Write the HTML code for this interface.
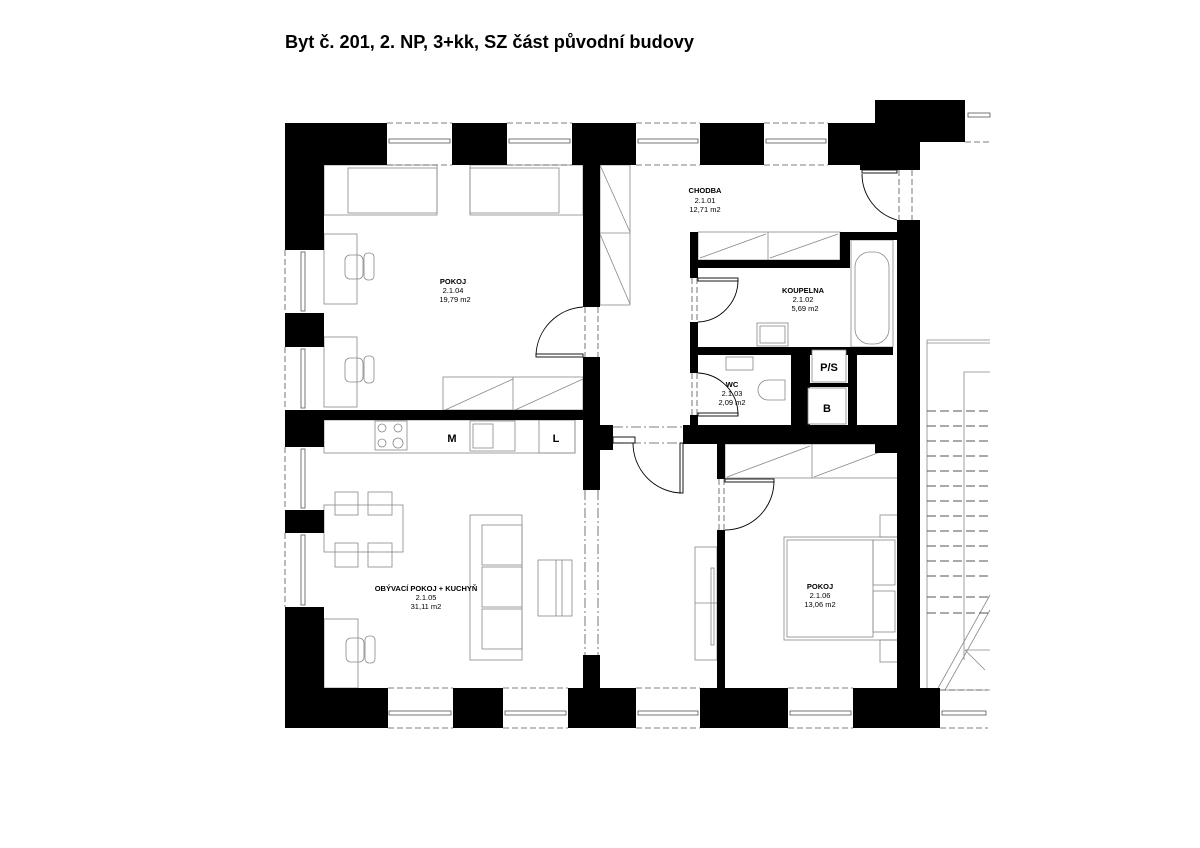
<!DOCTYPE html>
<html><head><meta charset="utf-8"><style>
html,body{margin:0;padding:0;background:#fff;}
svg{display:block;}
text{font-family:"Liberation Sans",Arial,sans-serif;fill:#000;}
.lbl{font-size:7.5px;text-anchor:middle;}
.b{font-weight:bold;}
</style></head><body>
<svg width="1200" height="848" viewBox="0 0 1200 848" xmlns="http://www.w3.org/2000/svg">
<rect width="1200" height="848" fill="#fff"/>
<text x="285" y="48" font-size="18" font-weight="bold" textLength="409" lengthAdjust="spacingAndGlyphs">Byt č. 201, 2. NP, 3+kk, SZ část původní budovy</text>

<g fill="none" stroke="#888" stroke-width="0.8">
<!-- furniture pokoj 2.1.04 -->
<rect x="324" y="165" width="113" height="50"/><rect x="348" y="168" width="89" height="45"/>
<rect x="470" y="165" width="113" height="50"/><rect x="470" y="168" width="89" height="45"/>
<rect x="324" y="234" width="33" height="70"/><rect x="324" y="337" width="33" height="70"/>
<rect x="345" y="255" width="18" height="24" rx="5"/><rect x="364" y="253" width="10" height="27" rx="4"/>
<rect x="345" y="358" width="18" height="24" rx="5"/><rect x="364" y="356" width="10" height="27" rx="4"/>
<rect x="443" y="377" width="140" height="33"/><line x1="513" y1="377" x2="513" y2="410"/>
<line x1="445" y1="410" x2="513" y2="379"/><line x1="515" y1="410" x2="583" y2="379"/>
<!-- chodba wardrobe -->
<rect x="600" y="165" width="30" height="140"/><line x1="600" y1="233" x2="630" y2="233"/>
<line x1="600" y1="165" x2="630" y2="232"/><line x1="600" y1="234" x2="630" y2="304"/>
<rect x="698" y="232" width="142" height="28"/><line x1="768" y1="232" x2="768" y2="260"/>
<line x1="700" y1="258" x2="766" y2="234"/><line x1="770" y1="258" x2="838" y2="234"/>
<!-- bath -->
<rect x="851" y="240" width="42" height="107"/><rect x="855" y="252" width="34" height="92" rx="15"/>
<rect x="757" y="323" width="31" height="23"/><rect x="760" y="326" width="25" height="17"/>
<rect x="726" y="357" width="27" height="13"/>
<path d="M785 380 H768 a10 10 0 0 0 0 20 H785 Z"/>
<!-- kitchen -->
<rect x="324" y="420" width="251" height="33"/>
<rect x="375" y="421" width="32" height="29"/>
<circle cx="382" cy="428" r="4"/><circle cx="398" cy="428" r="4"/><circle cx="382" cy="443" r="4"/><circle cx="398" cy="443" r="5"/>
<rect x="470" y="421" width="45" height="30"/><rect x="473" y="424" width="20" height="24"/>
<rect x="539" y="420" width="36" height="33"/>
<!-- living -->
<rect x="324" y="505" width="79" height="47"/>
<rect x="335" y="492" width="23" height="23"/><rect x="368" y="492" width="24" height="23"/>
<rect x="335" y="543" width="23" height="24"/><rect x="368" y="543" width="24" height="24"/>
<rect x="470" y="515" width="52" height="145"/><rect x="482" y="525" width="40" height="40"/><rect x="482" y="567" width="40" height="40"/><rect x="482" y="609" width="40" height="40"/>
<rect x="538" y="560" width="34" height="56"/><line x1="556" y1="560" x2="556" y2="616"/><line x1="562" y1="560" x2="562" y2="616"/>
<rect x="324" y="619" width="34" height="69"/><rect x="346" y="638" width="18" height="24" rx="5"/><rect x="365" y="636" width="10" height="27" rx="4"/>
<!-- corridor lower wardrobe -->
<rect x="695" y="547" width="22" height="113"/><line x1="695" y1="603" x2="717" y2="603"/><rect x="711" y="568" width="3" height="77"/>
<!-- bedroom -->
<rect x="725" y="444" width="173" height="34"/><line x1="812" y1="444" x2="812" y2="478"/>
<line x1="727" y1="477" x2="810" y2="446"/><line x1="814" y1="477" x2="896" y2="446"/>
<rect x="784" y="537" width="114" height="103"/><rect x="787" y="540" width="86" height="97"/>
<rect x="873" y="540" width="22" height="45"/><rect x="873" y="591" width="22" height="41"/>
<rect x="880" y="515" width="18" height="22"/><rect x="880" y="640" width="18" height="22"/>
<!-- stairs -->
<line x1="927" y1="340" x2="990" y2="340"/><line x1="927" y1="343" x2="990" y2="343"/>
<line x1="927" y1="340" x2="927" y2="690"/>
<polyline points="990,372 964,372 964,660"/>
<line x1="927" y1="690" x2="990" y2="690"/>
<line x1="937" y1="690" x2="990" y2="595"/><line x1="945" y1="690" x2="990" y2="610"/>
<line x1="965" y1="650" x2="990" y2="650"/><line x1="965" y1="650" x2="985" y2="670"/>
</g>
<g stroke="#555" stroke-width="1" stroke-dasharray="9,4">
<line x1="927" y1="411" x2="990" y2="411"/><line x1="927" y1="426" x2="990" y2="426"/><line x1="927" y1="441" x2="990" y2="441"/><line x1="927" y1="456" x2="990" y2="456"/><line x1="927" y1="471" x2="990" y2="471"/><line x1="927" y1="486" x2="990" y2="486"/><line x1="927" y1="501" x2="990" y2="501"/><line x1="927" y1="516" x2="990" y2="516"/><line x1="927" y1="531" x2="990" y2="531"/><line x1="927" y1="546" x2="990" y2="546"/><line x1="927" y1="561" x2="990" y2="561"/><line x1="927" y1="576" x2="990" y2="576"/><line x1="927" y1="597" x2="990" y2="597"/><line x1="927" y1="613" x2="990" y2="613"/>
</g>

<!-- walls -->
<g fill="#000">
<rect x="285" y="123" width="102" height="42"/><rect x="452" y="123" width="55" height="42"/><rect x="572" y="123" width="64" height="42"/><rect x="700" y="123" width="64" height="42"/><rect x="828" y="123" width="70" height="42"/>
<rect x="875" y="100" width="90" height="42"/><rect x="860" y="123" width="60" height="47"/>
<rect x="285" y="123" width="39" height="127"/><rect x="285" y="313" width="39" height="34"/><rect x="285" y="410" width="39" height="37"/><rect x="285" y="510" width="39" height="23"/><rect x="285" y="607" width="39" height="121"/>
<rect x="285" y="688" width="103" height="40"/><rect x="453" y="688" width="50" height="40"/><rect x="568" y="688" width="68" height="40"/><rect x="700" y="688" width="88" height="40"/><rect x="853" y="688" width="87" height="40"/>
<rect x="324" y="410" width="259" height="10"/>
<rect x="583" y="165" width="17" height="142"/><rect x="583" y="357" width="17" height="133"/><rect x="595" y="425" width="18" height="25"/><rect x="583" y="655" width="17" height="35"/>
<rect x="897" y="220" width="23" height="470"/><rect x="875" y="425" width="45" height="28"/>
<rect x="683" y="425" width="237" height="19"/>
<rect x="690" y="232" width="8" height="46"/><rect x="690" y="322" width="8" height="51"/><rect x="690" y="415" width="8" height="12"/>
<rect x="698" y="260" width="152" height="8"/><rect x="840" y="232" width="10" height="34"/><rect x="840" y="232" width="57" height="8"/>
<rect x="698" y="347" width="195" height="8"/>
<rect x="791" y="347" width="19" height="80"/><rect x="848" y="347" width="9" height="80"/><rect x="805" y="383" width="43" height="4"/>
<rect x="717" y="444" width="8" height="35"/><rect x="717" y="530" width="8" height="160"/>
</g>
<rect x="812" y="350" width="34" height="32" fill="#fff" stroke="#888" stroke-width="0.8"/>
<rect x="808" y="388" width="38" height="36" fill="#fff" stroke="#888" stroke-width="0.8"/>

<!-- windows -->
<g fill="#fff" stroke="#555" stroke-width="0.8">
<rect x="389" y="139" width="61" height="4"/><rect x="509" y="139" width="61" height="4"/><rect x="638" y="139" width="60" height="4"/><rect x="766" y="139" width="60" height="4"/>
<rect x="389" y="711" width="62" height="4"/><rect x="505" y="711" width="61" height="4"/><rect x="638" y="711" width="60" height="4"/><rect x="790" y="711" width="61" height="4"/><rect x="942" y="711" width="44" height="4"/>
<rect x="301" y="252" width="4" height="59"/><rect x="301" y="349" width="4" height="59"/><rect x="301" y="449" width="4" height="59"/><rect x="301" y="535" width="4" height="70"/>
<rect x="968" y="113" width="22" height="4"/>
</g>
<g fill="none" stroke="#555" stroke-width="0.8" stroke-dasharray="6,3">
<line x1="387" y1="123" x2="452" y2="123"/><line x1="387" y1="165" x2="452" y2="165"/><line x1="507" y1="123" x2="572" y2="123"/><line x1="507" y1="165" x2="572" y2="165"/>
<line x1="636" y1="123" x2="700" y2="123"/><line x1="636" y1="165" x2="700" y2="165"/><line x1="764" y1="123" x2="828" y2="123"/><line x1="764" y1="165" x2="828" y2="165"/>
<line x1="388" y1="688" x2="453" y2="688"/><line x1="388" y1="728" x2="453" y2="728"/><line x1="503" y1="688" x2="568" y2="688"/><line x1="503" y1="728" x2="568" y2="728"/>
<line x1="636" y1="688" x2="700" y2="688"/><line x1="636" y1="728" x2="700" y2="728"/><line x1="788" y1="688" x2="853" y2="688"/><line x1="788" y1="728" x2="853" y2="728"/><line x1="940" y1="690" x2="988" y2="690"/><line x1="940" y1="728" x2="988" y2="728"/>
<line x1="285" y1="250" x2="285" y2="313"/><line x1="285" y1="347" x2="285" y2="410"/><line x1="285" y1="447" x2="285" y2="510"/><line x1="285" y1="533" x2="285" y2="607"/>
<line x1="965" y1="142" x2="990" y2="142"/>
<!-- door openings -->
<line x1="585" y1="307" x2="585" y2="357"/><line x1="598" y1="307" x2="598" y2="357"/>
<line x1="899" y1="170" x2="899" y2="220"/><line x1="912" y1="170" x2="912" y2="220"/>
<line x1="692" y1="278" x2="692" y2="322"/><line x1="697" y1="278" x2="697" y2="322"/>
<line x1="692" y1="373" x2="692" y2="415"/><line x1="697" y1="373" x2="697" y2="415"/>
<line x1="719" y1="479" x2="719" y2="530"/><line x1="724" y1="479" x2="724" y2="530"/>
</g>
<g fill="none" stroke="#555" stroke-width="0.8" stroke-dasharray="10,3,2,3">
<line x1="613" y1="427" x2="683" y2="427"/><line x1="613" y1="443" x2="683" y2="443"/>
<line x1="585" y1="490" x2="585" y2="655"/><line x1="598" y1="490" x2="598" y2="655"/>
</g>
<!-- doors -->
<g fill="none" stroke="#000" stroke-width="0.9">
<path d="M583 307 A50 50 0 0 0 536 355"/><rect x="536" y="354" width="47" height="3"/>
<path d="M897 220 A48 48 0 0 1 862 174"/><rect x="862" y="170" width="35" height="3"/>
<path d="M698 322 A42 42 0 0 0 738 280"/><rect x="698" y="278" width="40" height="3"/>
<path d="M698 373 A42 42 0 0 1 738 415"/><rect x="698" y="413" width="40" height="3"/>
<path d="M725 530 A49 49 0 0 0 774 481"/><rect x="725" y="479" width="49" height="3"/>
<path d="M633 443 A50 50 0 0 0 681 493"/><rect x="680" y="443" width="3" height="50"/><rect x="613" y="437" width="22" height="6"/>
</g>

<!-- labels -->
<text class="lbl b" x="453" y="284">POKOJ</text><text class="lbl" x="453" y="293">2.1.04</text><text class="lbl" x="455" y="302">19,79 m2</text>
<text class="lbl b" x="705" y="193">CHODBA</text><text class="lbl" x="705" y="203">2.1.01</text><text class="lbl" x="705" y="212">12,71 m2</text>
<text class="lbl b" x="803" y="293">KOUPELNA</text><text class="lbl" x="803" y="302">2.1.02</text><text class="lbl" x="805" y="311">5,69 m2</text>
<text class="lbl b" x="732" y="387">WC</text><text class="lbl" x="732" y="396">2.1.03</text><text class="lbl" x="732" y="405">2,09 m2</text>
<text class="lbl b" x="820" y="589">POKOJ</text><text class="lbl" x="820" y="598">2.1.06</text><text class="lbl" x="820" y="607">13,06 m2</text>
<text class="lbl b" x="426" y="591">OBÝVACÍ POKOJ + KUCHYŇ</text><text class="lbl" x="426" y="600">2.1.05</text><text class="lbl" x="426" y="609">31,11 m2</text>
<text x="452" y="442" font-size="11" font-weight="bold" text-anchor="middle">M</text>
<text x="556" y="442" font-size="11" font-weight="bold" text-anchor="middle">L</text>
<text x="829" y="371" font-size="11" font-weight="bold" text-anchor="middle">P/S</text>
<text x="827" y="412" font-size="11" font-weight="bold" text-anchor="middle">B</text>
</svg>
</body></html>
